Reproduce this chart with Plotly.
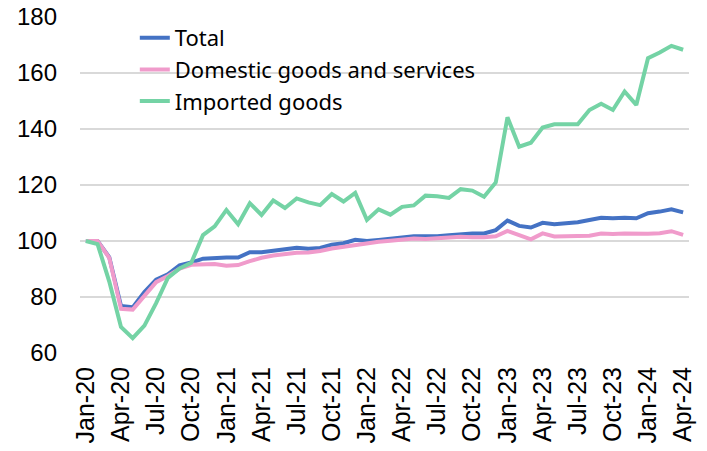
import pandas as pd
import plotly.graph_objects as go

months = pd.date_range("2020-01-01", "2024-04-01", freq="MS").strftime("%b-%y").tolist()

total = [100, 100, 94.2, 76.8, 76.3, 81.8, 86.2, 88.1, 91.3, 92.3,
         93.7, 94.0, 94.1, 94.1, 96.0, 96.0, 96.6, 97.1, 97.6, 97.2,
         97.5, 98.7, 99.2, 100.4, 100.0, 100.4, 100.8, 101.2, 101.7, 101.7,
         101.7, 102.1, 102.5, 102.7, 102.7, 103.9, 107.3, 105.4, 104.8, 106.5,
         106.0, 106.2, 106.7, 107.5, 108.3, 108.1, 108.3, 108.1, 109.9, 110.5,
         111.3, 110.2]

domestic = [100, 100, 94.0, 75.8, 75.5, 80.6, 85.3, 87.5, 90.1, 91.5,
            91.7, 91.8, 91.2, 91.4, 92.8, 94.0, 94.8, 95.4, 95.8, 95.9,
            96.4, 97.3, 97.9, 98.8, 99.3, 99.7, 100.1, 100.5, 100.9, 100.7,
            100.9, 101.1, 101.5, 101.3, 101.3, 101.7, 103.6, 102.1, 100.6, 102.7,
            101.6, 101.7, 101.9, 101.9, 102.7, 102.5, 102.7, 102.6, 102.6, 102.8,
            103.5, 102.2]

imported = [100, 98.9, 85.5, 69.3, 65.3, 69.8, 77.8, 86.8, 90.2, 92.2,
            102.1, 105.2, 111.1, 106.0, 113.5, 109.3, 114.5, 111.8, 115.2, 113.8,
            112.8, 116.8, 114.1, 117.2, 107.5, 111.3, 109.4, 112.2, 112.7, 116.2,
            116.0, 115.4, 118.5, 118.0, 115.8, 120.9, 144.2, 133.7, 135.1, 140.5,
            141.7, 141.7, 141.7, 146.8, 149.0, 146.8, 153.4, 148.6, 165.3, 167.3,
            169.7, 168.3]

series_names = ["Total", "Domestic goods and services", "Imported goods"]
colors = ["#4472C4", "#F09BCB", "#74D3A5"]

x = list(range(len(months)))
tick_idx = x[::3]
tick_text = months[::3]

fig = go.Figure()
for name, vals, col in zip(series_names, [total, domestic, imported], colors):
    fig.add_trace(go.Scatter(x=x, y=vals, name=name, mode="lines",
                             line=dict(color=col, width=4)))

fig.update_layout(
    width=707, height=451,
    margin=dict(l=80, r=18, t=17, b=98),
    paper_bgcolor="white", plot_bgcolor="white",
    showlegend=True,
    legend=dict(x=0.09, y=1.0, xanchor="left", yanchor="top",
                bgcolor="rgba(0,0,0,0)",
                font=dict(family="Noto Sans", size=22, color="#000000"),
                tracegroupgap=0),
    xaxis=dict(range=[-0.5, len(months) - 0.5], tickmode="array",
               tickvals=tick_idx, ticktext=tick_text, tickangle=-90,
               showgrid=False, zeroline=False, showline=False, ticks="",
               ticklabelstandoff=8, automargin=False,
               tickfont=dict(family="Liberation Sans", size=25, color="#000000")),
    yaxis=dict(range=[60, 180], dtick=20, showgrid=True, gridcolor="#D9D9D9",
               gridwidth=1.5, zeroline=False, showline=False, ticks="",
               ticklabelstandoff=22, automargin=False,
               tickfont=dict(family="Liberation Sans", size=24, color="#000000")),
)

fig.write_html("out.html")
